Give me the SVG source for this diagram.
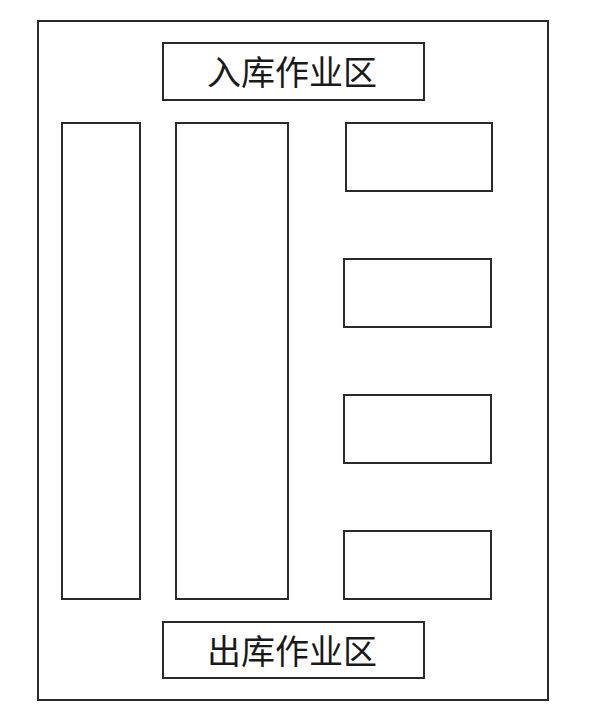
<svg xmlns="http://www.w3.org/2000/svg" width="600" height="727" viewBox="0 0 600 727">
<style>
.b{fill:#fff;stroke:#2a2a2a;stroke-width:2}
.t{font-family:"Liberation Sans","Noto Sans CJK SC",sans-serif;font-size:34px;fill:#1a1a1a;text-anchor:middle}
</style>
<rect width="600" height="727" fill="#fff"/>
<g id="warehouse"><rect class="b" x="38" y="21" width="510" height="679"/></g>
<g id="inbound"><rect class="b" x="163" y="43" width="261" height="57"/><text class="t" x="292" y="85">入库作业区</text></g>
<g id="rack1"><rect class="b" x="62" y="123" width="78" height="476"/></g>
<g id="rack2"><rect class="b" x="176" y="123" width="112" height="476"/></g>
<g id="zone1"><rect class="b" x="346" y="123" width="146" height="68"/></g>
<g id="zone2"><rect class="b" x="344" y="259" width="147" height="68"/></g>
<g id="zone3"><rect class="b" x="344" y="395" width="147" height="68"/></g>
<g id="zone4"><rect class="b" x="344" y="531" width="147" height="68"/></g>
<g id="outbound"><rect class="b" x="163" y="622" width="261" height="56"/><text class="t" x="292" y="664">出库作业区</text></g>
<g id="connectors"/>
</svg>
